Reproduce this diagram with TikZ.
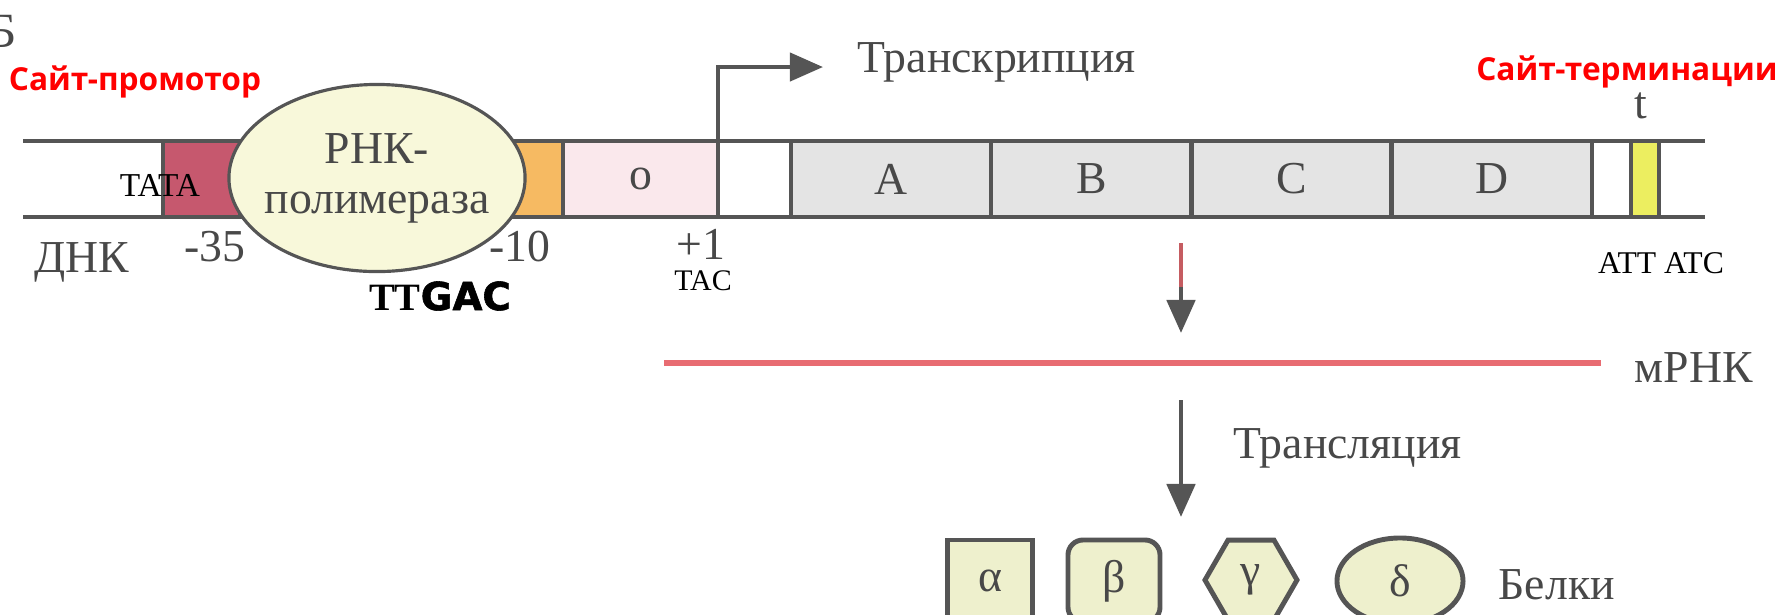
\documentclass[tikz,border=0pt]{standalone}
\usepackage{fontspec}
\setmainfont{Liberation Serif}
\newfontfamily\sitefont{Open Sans}
\newfontfamily\gacfont{DejaVu Sans}[BoldFeatures={FakeBold=1.5}]
\usetikzlibrary{arrows.meta,shapes.geometric,positioning}

\definecolor{txtgray}{RGB}{72,72,72}
\definecolor{linegray}{RGB}{85,85,85}
\definecolor{tatared}{RGB}{198,88,110}
\definecolor{boxorange}{RGB}{246,186,98}
\definecolor{boxpink}{RGB}{250,232,236}
\definecolor{genegray}{RGB}{228,228,228}
\definecolor{termyellow}{RGB}{236,238,96}
\definecolor{polfill}{RGB}{248,248,218}
\definecolor{protfill}{RGB}{238,240,205}
\definecolor{rnared}{RGB}{232,108,114}
\definecolor{sitered}{RGB}{255,0,0}

\tikzset{
  lbl/.style={text=txtgray, font=\fontsize{13}{15}\selectfont, inner sep=0pt},
  seq/.style={text=black, font=\fontsize{9}{10}\selectfont, inner sep=0pt},
  site/.style={text=sitered, font=\sitefont\bfseries\fontsize{9}{10}\selectfont, inner sep=0pt},
  seg/.style={draw=linegray, line width=1.2pt, minimum height=0.76cm, inner sep=0pt, outer sep=0pt, text=txtgray, font=\fontsize{13}{15}\selectfont},
  gene/.style={seg, fill=genegray, minimum width=2cm},
  flow/.style={draw=linegray, line width=1.4pt, -{Triangle[length=3.3mm,width=2.8mm]}},
  prot/.style={draw=linegray, line width=1.4pt, fill=protfill, text=txtgray, font=\fontsize{13}{15}\selectfont, inner sep=0pt},
}

\begin{document}
\begin{tikzpicture}[x=0.01cm, y=-0.01cm]
    \useasboundingbox (0,0) rectangle (1775,614);

    % DNA strip
    \draw[linegray, line width=1.2pt] (23,141) -- (1705,141) (23,217) -- (1705,217);
    \node[seg, fill=tatared, minimum width=0.77cm, anchor=west] (tata) at (163,179) {};
    \node[seg, fill=boxorange, minimum width=0.53cm, anchor=west] (box10) at (510,179) {};
    \node[seg, fill=boxpink, minimum width=1.55cm, right=0pt of box10] (op) {o};
    \node[seg, fill=white, minimum width=0.73cm, right=0pt of op] (lead) {};
    \foreach \g/\prev in {A/lead, B/A, C/B, D/C} {
        \node[gene, right=0pt of \prev] (\g) {\g};
    }
    \node[seg, fill=white, minimum width=0.39cm, right=0pt of D] (gap) {};
    \node[seg, fill=termyellow, minimum width=0.28cm, right=0pt of gap] (term) {};

    % RNA polymerase
    \node[ellipse, draw=linegray, line width=0.9pt, fill=polfill, minimum width=2.96cm, minimum height=1.87cm,
          inner sep=0pt] (pol) at (377,178) {};
    \node[lbl, align=center, font=\fontsize{13}{14.2}\selectfont] (poltext) at (pol.center) {РНК-\\полимераза};

    % labels round the strip
    \node[lbl, font=\fontsize{14}{16}\selectfont] (part) at (3,31) {Б};
    \node[site] (promsite) at (135,82) {Сайт-промотор};
    \node[site] (termsite) at (1627,72) {Сайт-терминации};
    \node[seq, font=\fontsize{9.5}{10}\selectfont] (tatalbl) at (160,185) {TATA};
    \node[lbl] (dnk) at (82,262) {ДНК};
    \node[lbl] (m35) at (215,247) {-35};
    \node[lbl] (m10) at (520,247) {-10};
    \node[seq, font=\fontsize{11}{12}\selectfont] (ttgac) at (440,296) {{\bfseries TT}{\gacfont\bfseries GAC}};
    \node[lbl] (plus1) at (701,244) {+1};
    \node[seq, font=\fontsize{8.5}{10}\selectfont] (tac) at (703,281) {TAC};
    \node[lbl] (tsite) at (1641,106) {t};
    \node[seq] (attatc) at (1661,263) {ATT ATC};

    % transcription
    \node[lbl, anchor=west] (transcr) at (857,62) {Транскрипция};
    \draw[flow, line width=1.2pt] (op.north east) |- ([xshift=-3.4mm, yshift=-0.5mm]transcr.west);

    % mRNA
    \coordinate (down1) at (1181,243);
    \coordinate (rnatop) at (1181,333);
    \coordinate (rnaleft) at (664,363);
    \coordinate (rnaright) at (1601,363);
    \draw[flow] (down1) -- (rnatop);
    \draw[rnared!85!black, line width=1.4pt] (down1) -- ++(0,44);
    \draw[rnared, line width=1.5pt] (rnaleft) -- (rnaright);
    \node[lbl, anchor=west] (mrna) at (1634,368) {мРНК};

    % translation
    \coordinate (down2) at (1181,400);
    \coordinate (prottop) at (1181,517);
    \draw[flow] (down2) -- (prottop);
    \node[lbl, anchor=west] (transl) at (1233,448) {Трансляция};

    % proteins
    \node[prot, minimum width=0.85cm, minimum height=0.82cm] (alpha) at (990,581) {α};
    \node[prot, rounded corners=1.5mm, minimum width=0.92cm, minimum height=0.82cm] (beta) at (1114,581) {β};
    \node[prot, regular polygon, regular polygon sides=6, minimum size=0.92cm] (gamma) at (1251,580) {γ};
    \node[prot, ellipse, minimum width=1.26cm, minimum height=0.86cm] (delta) at (1400,581) {δ};
    \node[lbl, anchor=west] (belki) at (1498,585) {Белки};
\end{tikzpicture}
\end{document}
